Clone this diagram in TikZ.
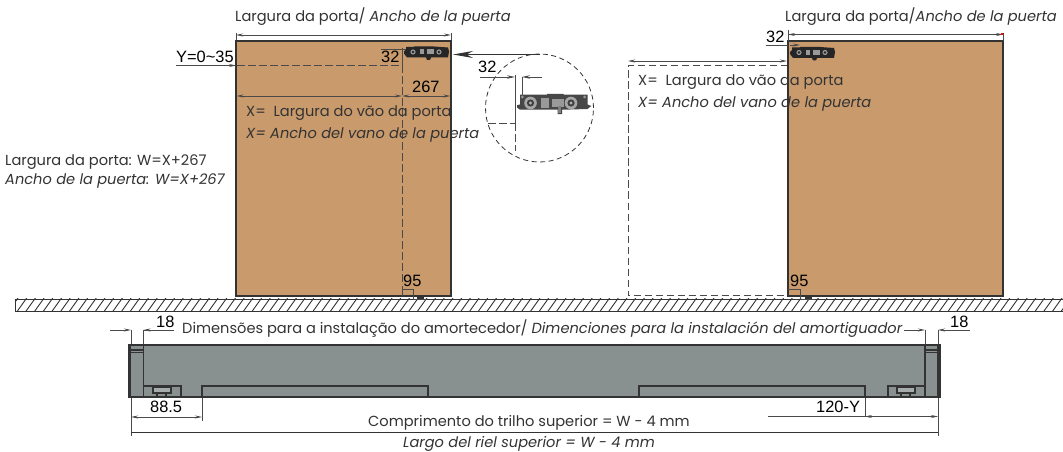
\documentclass[tikz,border=0pt]{standalone}
\usepackage{fontspec}
\setmainfont{Poppins}
\newfontfamily\arialf{Liberation Sans}
\usetikzlibrary{arrows.meta,patterns}
\definecolor{door}{HTML}{C89A6C}
\definecolor{railc}{HTML}{889090}
\definecolor{ink}{HTML}{333333}
\definecolor{dimc}{HTML}{4A4A4A}
\tikzset{
  x=1bp,y=-1bp,
  lbl/.style={inner sep=0pt,anchor=base west,text=ink,font=\fontsize{14.6bp}{16bp}\selectfont},
  num/.style={inner sep=0pt,anchor=base west,text=black,font=\arialf\fontsize{16.4bp}{18bp}\selectfont},
  dimline/.style={draw=dimc,line width=.85bp},
  dimboth/.style={dimline,{Stealth[length=7bp,width=3bp]}-{Stealth[length=7bp,width=3bp]}},
  dimend/.style={dimline,-{Stealth[length=7bp,width=3bp]}},
  dashline/.style={draw=dimc,line width=1bp,dash pattern=on 7.5bp off 3.5bp},
  doorbox/.style={fill=door,draw=ink,line width=1.3bp},
  railline/.style={draw=ink,line width=1.1bp},
  pics/hardware/.style={code={
    \fill[black!72] (0,7.5)--(2,7)--(2,0.5)--(20,0.5)--(20,0)--(31,0)--(31,0.5)--(47,0.5)--(47,7)--(49.5,8)--(47,10)--(30,10.5)--(30,13.5)--(27,13.5)--(27,10.5)--(2,10.5)--(0,9)--cycle;
    \foreach \cx in {9,36}{\fill[black!35] (\cx,6) circle (4.2bp);\fill[black!75] (\cx,6) circle (2.4bp);\fill[black!30] (\cx,6) circle (1.1bp);}
    \fill[black!40] (16,2.5) rectangle (21,9.5);
    \fill[black!40] (23,3.5) rectangle (31,8.5);
    \fill[black!40] (3.5,2) circle (1bp) (45,2) circle (1bp);
    \fill[black!50] (27.5,8) rectangle (29.5,13);
  }},
  pics/smallhw/.style={code={
    \fill[black!85] (0,5)--(2,3)--(2,.5)--(10,.5)--(10,0)--(30,0)--(44,1)--(45,5)--(44,11)--(27,11)--(26,13.5)--(23,13.5)--(22,11)--(3,11)--(0,7)--cycle;
    \foreach \cx in {9,35}{\fill[black!40] (\cx,5.5) circle (2.6bp);\fill[black!85] (\cx,5.5) circle (1.3bp);}
    \fill[black!40] (16,3) rectangle (20,8);
    \fill[black!40] (23,3) rectangle (30,8);
  }}
}
\begin{document}
\begin{tikzpicture}
\useasboundingbox (0,0) rectangle (1063,452);
\fill[white] (0,0) rectangle (1063,452);

% floor
\draw[draw=ink,line width=.9bp] (15,299) -- (1063,299) (15,311) -- (1063,311) (15,299) -- (15,311);
\begin{scope}
\clip (15,299) rectangle (1063,311);
\foreach \i in {0,...,122}{\draw[ink,line width=.9bp] ({8+\i*8.7},312) -- ({18+\i*8.7},298);}
\end{scope}

% left door
\node[lbl] (t1) at (235,22) {Largura da porta/ \textit{Ancho de la puerta}};
\draw[dimboth] (236,35) -- (451,35);
\draw[dimline] (236,33) -- (236,41) (451,33) -- (451,41);
\draw[doorbox] (236,41) rectangle (451,296);
\draw[dimline] (381,49) -- (408,49);
\draw[dimline] (402,48) -- (402,65.5);
\draw[dimend] (176,65.5) -- (236,65.5);
\draw[dashline] (237,65.5) -- (402,65.5);
\draw[dashline] (402,65.5) -- (402,289);
\pic at (404,46.5) {smallhw};
\node[num] (n32a) at (381,63) {32};
\node[num] (ny) at (176,63) {Y=0\textasciitilde35};
\node[num] (n267) at (412,93) {267};
\draw[dimboth] (236.5,96) -- (402,96);
\draw[dimboth] (402,96) -- (450.5,96);
\node[lbl] (x1) at (246,117) {X=\ \ Largura do vão da porta};
\node[lbl] (x2) at (246,139) {\textit{X= Ancho del vano de la puerta}};
\node[num] (n95a) at (403,287) {95};
\draw[dimc,line width=.7bp] (402,296) -- (402,289) -- (413,289) -- (413,299) -- (427,299);
\fill[ink] (417,296) rectangle (424,299);

% left notes
\node[lbl] (w1) at (5,166) {Largura da porta: W=X+267};
\node[lbl] (w2) at (5,185) {\textit{Ancho de la puerta: W=X+267}};

% detail circle
\draw[draw=ink,line width=.8bp,dash pattern=on 5bp off 3.5bp] (539.5,108) circle (54bp);
\coordinate (c0) at (540,54.5);
\draw[ink,line width=1bp,-{Stealth[length=20bp,width=7bp]}] (c0) -- (453,54.5);
\node[num] (n32b) at (478,73) {32};
\draw[dimline] (480,77) -- (503,77);
\draw[dimline] (528,77) -- (542,77);
\draw[dimline,-{Stealth[length=8bp,width=3.5bp]}] (500,77) -- (515,77);
\draw[dimline,-{Stealth[length=8bp,width=3.5bp]}] (535,77) -- (522,77);
\draw[dimline,line width=1bp] (515,75) -- (515,123.5);
\draw[dimline] (522,77) -- (522,97);
\draw[dashline] (488,123.5) -- (515,123.5);
\draw[dashline] (515,123.5) -- (515,151);
\begin{scope}[shift={(517,94)},scale=1.5,transform shape]
\pic at (0,0) {hardware};
\end{scope}

% right door
\node[lbl] (t2) at (785,22) {Largura da porta/\textit{Ancho de la puerta}};
\draw[dashline] (788,65.5) -- (628,65.5) -- (628,296) -- (788,296);
\draw[doorbox] (788,41) rectangle (1003,296);
\draw[dimline] (788,30) -- (788,41);
\draw[dimboth] (788,34.5) -- (1003,34.5);
\fill[red] (1001,33.5) rectangle (1003,35.5);
\draw[dimline] (1003,33) -- (1003,41);
\node[num] (n32c) at (766,43) {32};
\draw[dimline] (766,45) -- (788,45);
\draw[dimend] (790,45) -- (800,45);
\pic at (790,47) {smallhw};
\draw[dimboth] (628,61) -- (787,61);
\node[lbl] (x3) at (638,86) {X=\ \ Largura do vão da porta};
\node[lbl] (x4) at (638,108) {\textit{X= Ancho del vano de la puerta}};
\node[num] (n95b) at (790,287) {95};
\draw[dimc,line width=.7bp] (788,289) -- (800,289) -- (800,299) -- (815,299);
\fill[ink] (805,296) rectangle (812,299);

% rail
\fill[railc] (129,345) rectangle (940,397.5);
\draw[ink,line width=1.2bp] (129,345) rectangle (940,397.5);
\draw[ink,line width=1.8bp] (130.5,345) -- (130.5,397);
\draw[ink,line width=1.8bp] (938,345) -- (938,397);
\draw[railline] (143.5,345) -- (143.5,386);
\draw[railline] (925,345) -- (925,386);
\draw[railline] (131,350) -- (143.5,350) (131,352.5) -- (143.5,352.5);
\draw[railline] (925,350) -- (937,350) (925,352.5) -- (937,352.5);
\draw[railline] (143.5,386) rectangle (181,397);
\draw[railline] (888,386) rectangle (925,397);
\draw[railline,fill=railc!75] (153,387.5) rectangle (171,393);
\draw[railline,fill=railc!75] (897,387.5) rectangle (915,393);
\draw[railline] (157,393) rectangle (166,397);
\draw[railline] (901,393) rectangle (910,397);
\draw[railline] (202,397) -- (202,386) -- (428,386) -- (428,397);
\draw[railline] (639,397) -- (639,386) -- (865,386) -- (865,397);
\draw[ink,line width=.8bp] (219,385) -- (223,385) (227,385) -- (232,385);
\draw[ink,line width=.8bp] (835,385) -- (839,385) (843,385) -- (848,385);
\draw[ink,line width=1.6bp] (129,397) -- (940,397);

% rail dims
\draw[dimend] (110,330) -- (131,330);
\draw[dimend] (160,330) -- (143.5,330);
\draw[dimline] (143.5,330) -- (174,330);
\draw[dimline] (131,330) -- (131,344);
\draw[dimline] (143.5,330) -- (143.5,344);
\node[num] (n18a) at (156,328) {18};
\node[lbl] (dim) at (182,334) {Dimensões para a instalação do amortecedor/ \textit{Dimenciones para la instalación del amortiguador}};
\draw[dimend] (904,330) -- (925,330);
\draw[dimend] (970,330) -- (938,330);
\draw[dimline] (925,330) -- (925,344) (938,330) -- (938,344);
\node[num] (n18b) at (950,328) {18};

\draw[dimline] (131,398) -- (131,436);
\draw[dimline] (202,398) -- (202,421);
\draw[dimboth] (131,417) -- (202,417);
\node[num] (n885) at (150,413) {88.5};
\draw[dimline] (768,416.5) -- (865,416.5);
\draw[dimboth] (865,416.5) -- (938,416.5);
\draw[dimline] (865,398) -- (865,417);
\draw[dimline] (938,398) -- (938,436);
\node[num] (n120) at (816,413) {120-Y};
\draw[ink,line width=.8bp] (131,432) -- (938,432);
\node[lbl] (c1) at (368,426) {Comprimento do trilho superior = W - 4 mm};
\node[lbl] (c2) at (403,447) {\textit{Largo del riel superior = W - 4 mm}};
\end{tikzpicture}
\end{document}
